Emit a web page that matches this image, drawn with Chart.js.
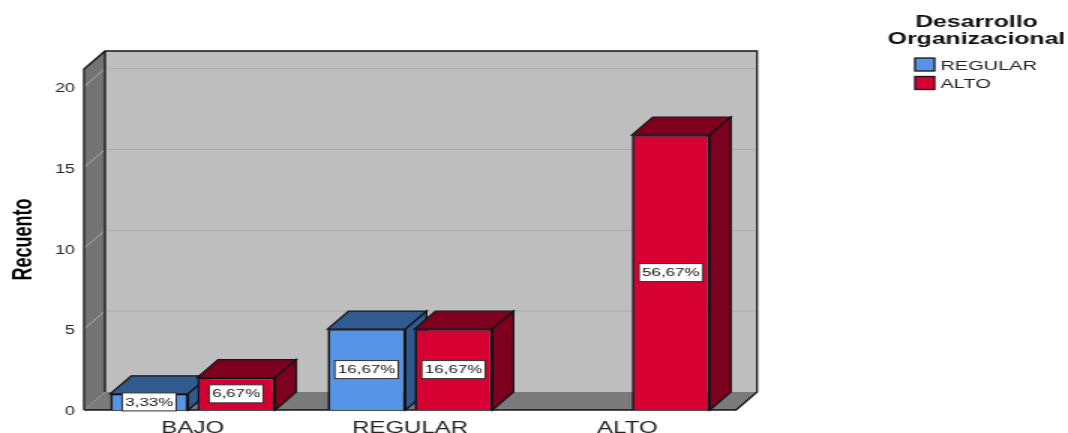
<!DOCTYPE html>
<html>
<head>
<meta charset="utf-8">
<style>
  html, body { margin: 0; background: #fff; overflow: hidden; }
  /* the reference is a picture stretched sideways, so the canvas is too */
  #canvas { display: block; transform: scaleX(1.5); transform-origin: 0 0; }
</style>
</head>
<body>
<canvas id="canvas" width="712" height="433"></canvas>
<script src="https://cdn.jsdelivr.net/npm/chart.js@4"></script>
<script>
var categories = ['BAJO', 'REGULAR', 'ALTO'];
var regularValues = [1, 5, null];
var altoValues = [2, 5, 17];
var regularLabels = ['3,33%', '16,67%', null];
var altoLabels = ['6,67%', '16,67%', '56,67%'];
var legendTitle = ['Desarrollo', 'Organizacional'];
var yTitle = 'Recuento';

var FONT = '"Liberation Sans", Arial, sans-serif';
var EDGE = '#14141a';
var DX = 14;   // depth of the 3d box, canvas px
var DY = 18;

function poly(ctx, pts, fill, stroke) {
    ctx.beginPath();
    ctx.moveTo(pts[0][0], pts[0][1]);
    for (let i = 1; i < pts.length; i++) ctx.lineTo(pts[i][0], pts[i][1]);
    ctx.closePath();
    ctx.fillStyle = fill;
    ctx.fill();
    if (stroke) {
        ctx.strokeStyle = stroke;
        ctx.lineWidth = 1.3;
        ctx.stroke();
    }
}

var box3d = {
    id: 'box3d',
    beforeDatasetsDraw(chart) {
        let ctx = chart.ctx;
        let a = chart.chartArea;
        let yScale = chart.scales.y;
        ctx.save();

        // walls and floor
        poly(ctx, [[a.left + DX, a.top - DY], [a.right + DX, a.top - DY], [a.right + DX, a.bottom - DY], [a.left + DX, a.bottom - DY]], '#bebebe');
        poly(ctx, [[a.left, a.top], [a.left + DX, a.top - DY], [a.left + DX, a.bottom - DY], [a.left, a.bottom]], '#737373');
        poly(ctx, [[a.left + DX, a.bottom - DY], [a.right + DX, a.bottom - DY], [a.right, a.bottom], [a.left, a.bottom]], '#7b7b7b');

        // gridlines follow the y scale
        ctx.lineWidth = 1;
        yScale.ticks.forEach(function (t) {
            if (t.value === 0) return;
            let y = yScale.getPixelForValue(t.value);
            ctx.strokeStyle = '#a8a8a8';
            ctx.beginPath();
            ctx.moveTo(a.left, y);
            ctx.lineTo(a.left + DX, y - DY);
            ctx.stroke();
            ctx.strokeStyle = '#adadad';
            ctx.beginPath();
            ctx.moveTo(a.left + DX, y - DY);
            ctx.lineTo(a.right + DX, y - DY);
            ctx.stroke();
        });

        // outlines
        ctx.strokeStyle = EDGE;
        ctx.lineWidth = 1.3;
        ctx.beginPath();
        ctx.moveTo(a.left, a.bottom);
        ctx.lineTo(a.left, a.top);
        ctx.lineTo(a.left + DX, a.top - DY);
        ctx.lineTo(a.right + DX, a.top - DY);
        ctx.lineTo(a.right + DX, a.bottom - DY);
        ctx.lineTo(a.right, a.bottom);
        ctx.lineTo(a.left, a.bottom);
        ctx.moveTo(a.left + DX, a.top - DY);
        ctx.lineTo(a.left + DX, a.bottom - DY);
        ctx.stroke();

        // top and side of every bar, blue first so red covers it
        chart.data.datasets.forEach(function (ds, i) {
            chart.getDatasetMeta(i).data.forEach(function (bar, j) {
                if (ds.data[j] === null) return;
                let l = bar.x - bar.width / 2;
                let r = bar.x + bar.width / 2;
                poly(ctx, [[l, bar.y], [l + DX, bar.y - DY], [r + DX, bar.y - DY], [r, bar.y]], ds.shadeColor, EDGE);
                poly(ctx, [[r, bar.y], [r + DX, bar.y - DY], [r + DX, bar.base - DY], [r, bar.base]], ds.shadeColor, EDGE);
            });
        });
        ctx.restore();
    },
    afterDatasetsDraw(chart) {
        let ctx = chart.ctx;
        let yScale = chart.scales.y;
        ctx.save();

        // y tick labels sit a little under their gridline in the reference
        ctx.font = '12px ' + FONT;
        ctx.fillStyle = '#222';
        ctx.textAlign = 'right';
        ctx.textBaseline = 'middle';
        yScale.ticks.forEach(function (t) {
            ctx.fillText(t.label, yScale.right - 6, yScale.getPixelForValue(t.value) + 2);
        });

        ctx.font = '11.3px ' + FONT;
        ctx.textAlign = 'center';
        chart.data.datasets.forEach(function (ds, i) {
            chart.getDatasetMeta(i).data.forEach(function (bar, j) {
                let txt = ds.percentLabels[j];
                if (!txt) return;
                let w = ctx.measureText(txt).width + 4;
                let h = 18;
                let cy = (bar.y + bar.base) / 2;
                ctx.fillStyle = '#fff';
                ctx.fillRect(bar.x - w / 2, cy - h / 2, w, h);
                ctx.strokeStyle = '#333';
                ctx.lineWidth = 1;
                ctx.strokeRect(bar.x - w / 2, cy - h / 2, w, h);
                ctx.fillStyle = '#111';
                ctx.fillText(txt, bar.x, cy + 0.5);
            });
        });

        // legend
        ctx.fillStyle = '#111';
        ctx.font = 'bold 16.5px ' + FONT;
        ctx.fillText(legendTitle[0], 651, 22.5);
        ctx.fillText(legendTitle[1], 651, 39.5);
        ctx.textAlign = 'left';
        ctx.font = '13.3px ' + FONT;
        chart.data.datasets.forEach(function (ds, i) {
            let y = 58 + i * 18.5;
            ctx.fillStyle = ds.backgroundColor;
            ctx.fillRect(610, y, 13, 13);
            ctx.strokeStyle = EDGE;
            ctx.lineWidth = 1.3;
            ctx.strokeRect(610, y, 13, 13);
            ctx.fillStyle = '#222';
            ctx.fillText(ds.label, 627, y + 8);
        });
        ctx.restore();
    }
};

var config = {
    type: 'bar',
    data: {
        labels: categories,
        datasets: [
            { label: 'REGULAR', data: regularValues, percentLabels: regularLabels, backgroundColor: '#5594e6', shadeColor: '#315b8f', borderColor: EDGE, borderWidth: 1.7 },
            { label: 'ALTO', data: altoValues, percentLabels: altoLabels, backgroundColor: '#d70032', shadeColor: '#7d001e', borderColor: EDGE, borderWidth: 1.7 }
        ]
    },
    options: {
        responsive: false,
        animation: false,
        devicePixelRatio: 1,
        categoryPercentage: 0.8,
        barPercentage: 0.897,
        layout: { padding: { left: 0, top: 69, right: 221.3, bottom: 0 } },
        plugins: { legend: { display: false }, tooltip: { enabled: false } },
        scales: {
            x: {
                grid: { display: false },
                border: { display: false },
                ticks: { color: '#222', font: { family: FONT, size: 16 }, padding: 1, maxRotation: 0 },
                afterFit: function (s) { s.height = 23; }
            },
            y: {
                min: 0,
                max: 21.09,
                grid: { display: false, drawTicks: false },
                border: { display: false },
                ticks: { display: false, stepSize: 5, includeBounds: false },
                title: { display: true, text: yTitle, color: '#000', font: { family: FONT, size: 18, weight: 'bold' }, padding: { top: 5, bottom: 0 } },
                afterFit: function (s) { s.width = 56; }
            }
        }
    },
    plugins: [box3d]
};

function start() {
    var ctx = document.getElementById('canvas').getContext('2d');
    new Chart(ctx, config);
}
start();
</script>
</body>
</html>
